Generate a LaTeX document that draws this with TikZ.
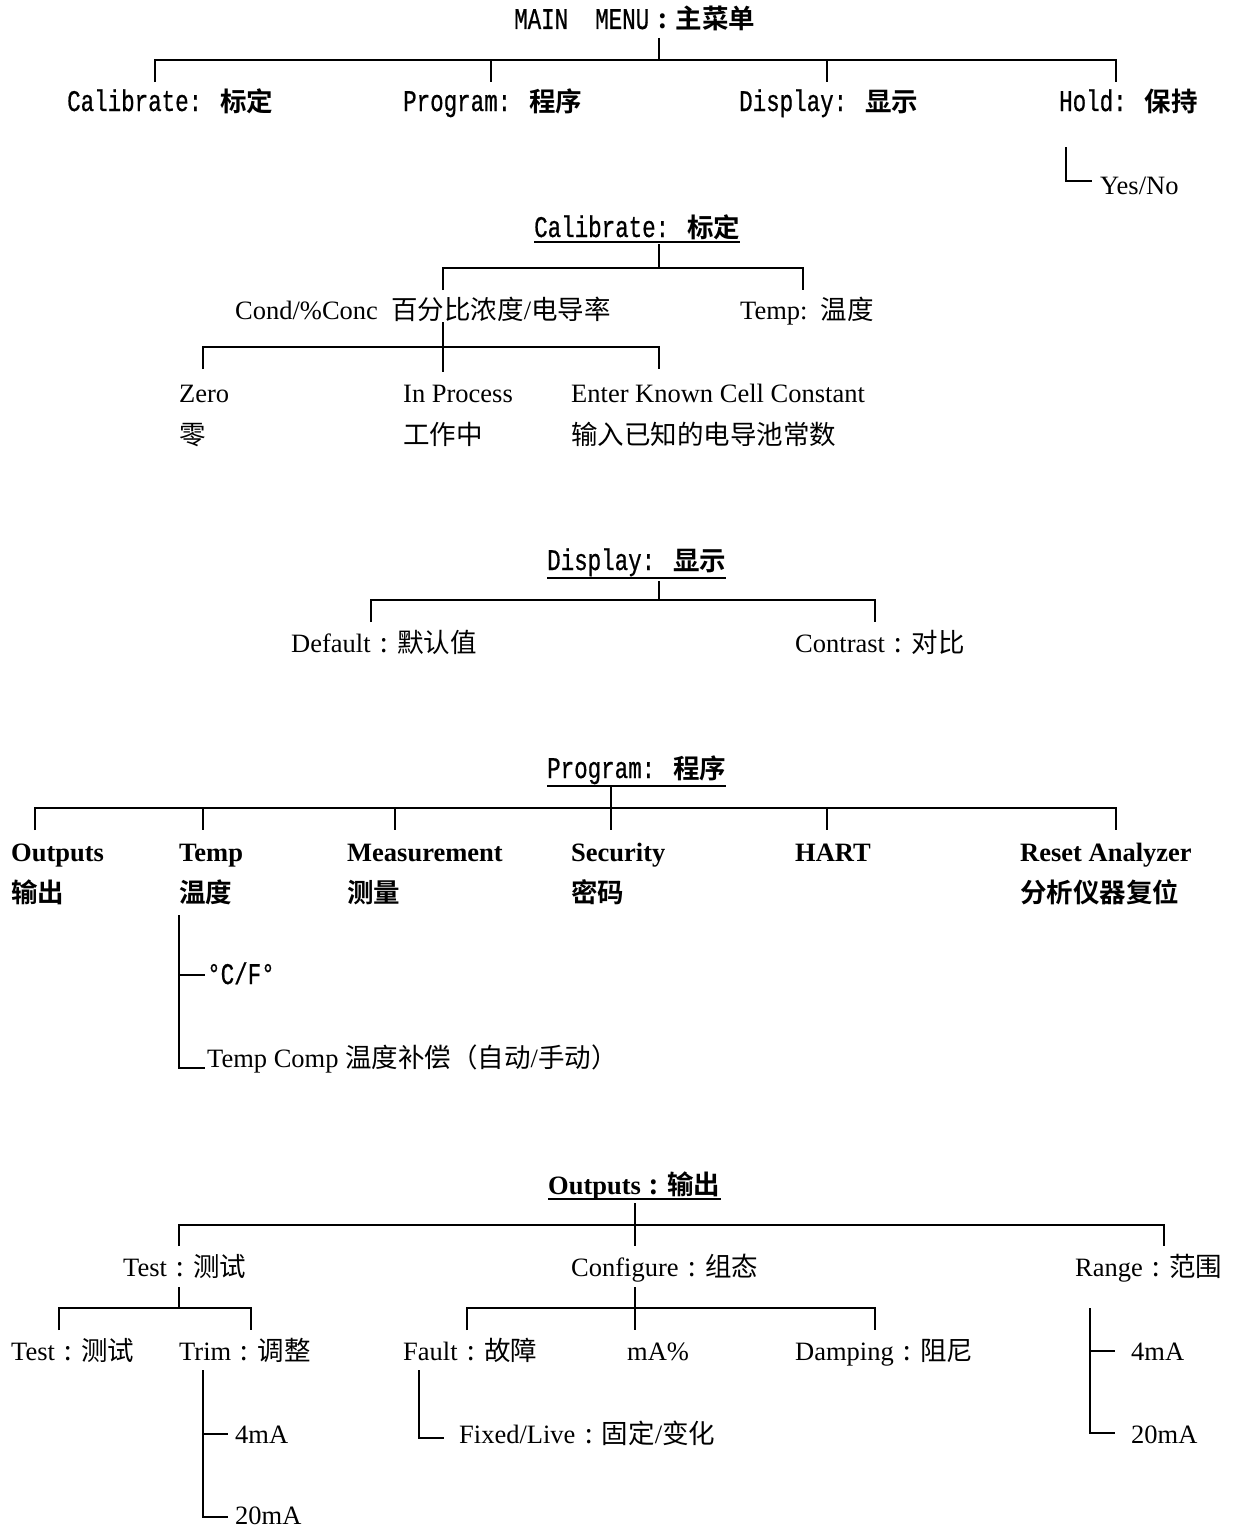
\documentclass[tikz,border=0pt]{standalone}
\usepackage{fontspec}
\setmainfont{Liberation Serif}
\newfontfamily\cjk[BoldFont={Noto Sans CJK SC Bold}]{Noto Sans CJK SC}
\newfontfamily\mono[FakeStretch=0.75,FakeBold=0.6]{Liberation Mono}
\newcommand{\zh}[1]{{\cjk #1}}
\newcommand{\zhb}[1]{{\cjk\bfseries #1}}
\newcommand{\fc}{\makebox[1em][c]{\cjk :}}
\newcommand{\fcb}{\makebox[1em][c]{\cjk\bfseries :}}
\newcommand{\mo}[1]{{\fontsize{30}{30}\selectfont\mono #1}}
\begin{document}
\begin{tikzpicture}[x=1pt,y=-1pt,
  lbl/.style={anchor=base west, inner sep=0pt, font=\fontsize{26.5}{30}\selectfont},
  blbl/.style={lbl, font=\fontsize{26.5}{30}\selectfont\bfseries},
  ln/.style={line width=1.8pt},
  ul/.style={line width=1.8pt}]
\useasboundingbox (0,0) rectangle (1234,1528);
\fill[white] (0,0) rectangle (1234,1528);

% ---------- Main menu ----------
\node[lbl] (main) at (514,29) {\mo{MAIN\ \ MENU}\zhb{\fcb 主菜单}};
\node[lbl] (cal1) at (67,111) {\mo{Calibrate: }\zhb{标定}};
\node[lbl] (prog1) at (403,111) {\mo{Program: }\zhb{程序}};
\node[lbl] (disp1) at (739,111) {\mo{Display: }\zhb{显示}};
\node[lbl] (hold1) at (1059,111) {\mo{Hold: }\zhb{保持}};
\node[lbl] (yesno) at (1100,194) {Yes/No};

\coordinate (mA) at (659,38);
\coordinate (mB) at (659,60);
\coordinate (m1) at (155,82);
\coordinate (m2) at (491,82);
\coordinate (m3) at (827,82);
\coordinate (m4) at (1116,82);
\draw[ln] (mA) -- (mB);
\draw[ln] (m1) -- (m1|-mB) -- (m4|-mB) -- (m4);
\draw[ln] (m2|-mB) -- (m2);
\draw[ln] (m3|-mB) -- (m3);
\coordinate (hA) at (1066,147);
\coordinate (hB) at (1092,181);
\draw[ln] (hA) |- (hB);

% ---------- Calibrate ----------
\node[lbl] (calH) at (534,237) {\mo{Calibrate: }\zhb{标定}};
\draw[ul] ([yshift=-5pt]calH.base west) -- ([yshift=-5pt]calH.base east);
\node[lbl] (cond) at (235,319) {Cond/\%Conc\ \ \zh{百分比浓度}/\zh{电导率}};
\node[lbl] (tempc) at (740,319) {Temp:\ \ \zh{温度}};
\node[lbl] (zero) at (179,402) {Zero};
\node[lbl] (ling) at (179,444) {\zh{零}};
\node[lbl] (inproc) at (403,402) {In Process};
\node[lbl] (gzz) at (403,444) {\zh{工作中}};
\node[lbl] (enter) at (571,402) {Enter Known Cell Constant};
\node[lbl] (shuru) at (571,444) {\zh{输入已知的电导池常数}};

\coordinate (cA) at (659,244);
\coordinate (cB) at (659,268);
\coordinate (c1) at (443,290);
\coordinate (c2) at (803,290);
\draw[ln] (cA) -- (cB);
\draw[ln] (c1) -- (c1|-cB) -- (c2|-cB) -- (c2);
\coordinate (kA) at (443,322);
\coordinate (kB) at (443,347);
\coordinate (kC) at (443,372);
\coordinate (k1) at (203,369);
\coordinate (k3) at (659,369);
\draw[ln] (kA) -- (kC);
\draw[ln] (k1) -- (k1|-kB) -- (k3|-kB) -- (k3);

% ---------- Display ----------
\node[lbl] (dispH) at (547,570) {\mo{Display: }\zhb{显示}};
\draw[ul] ([yshift=-8pt]dispH.base west) -- ([yshift=-8pt]dispH.base east);
\node[lbl] (default) at (291,652) {Default\zh{\fc 默认值}};
\node[lbl] (contrast) at (795,652) {Contrast\zh{\fc 对比}};
\coordinate (dA) at (659,581);
\coordinate (dB) at (659,600);
\coordinate (d1) at (371,622);
\coordinate (d2) at (875,622);
\draw[ln] (dA) -- (dB);
\draw[ln] (d1) -- (d1|-dB) -- (d2|-dB) -- (d2);

% ---------- Program ----------
\node[lbl] (progH) at (547,778) {\mo{Program: }\zhb{程序}};
\draw[ul] ([yshift=-8pt]progH.base west) -- ([yshift=-8pt]progH.base east);
\node[blbl] (outp) at (11,861) {Outputs};
\node[lbl] (outpz) at (11,902) {\zhb{输出}};
\node[blbl] (tempp) at (179,861) {Temp};
\node[lbl] (temppz) at (179,902) {\zhb{温度}};
\node[blbl] (meas) at (347,861) {Measurement};
\node[lbl] (measz) at (347,902) {\zhb{测量}};
\node[blbl] (sec) at (571,861) {Security};
\node[lbl] (secz) at (571,902) {\zhb{密码}};
\node[blbl] (hart) at (795,861) {HART};
\node[blbl] (reset) at (1020,861) {Reset Analyzer};
\node[lbl] (resetz) at (1020,902) {\zhb{分析仪器复位}};
\node[lbl] (cf) at (207,984) {\mo{°C/F°}};
\node[lbl] (tcomp) at (207,1067) {Temp Comp \zh{温度补偿（自动}/\zh{手动）}};

\coordinate (pA) at (611,787);
\coordinate (pB) at (611,808);
\coordinate (p1) at (35,830);
\coordinate (p2) at (203,830);
\coordinate (p3) at (395,830);
\coordinate (p4) at (611,830);
\coordinate (p5) at (827,830);
\coordinate (p6) at (1116,830);
\draw[ln] (pA) -- (p4);
\draw[ln] (p1) -- (p1|-pB) -- (p6|-pB) -- (p6);
\draw[ln] (p2|-pB) -- (p2);
\draw[ln] (p3|-pB) -- (p3);
\draw[ln] (p5|-pB) -- (p5);
\coordinate (tA) at (179,915);
\coordinate (tB) at (205,975);
\coordinate (tC) at (205,1068);
\draw[ln] (tA) |- (tC);
\draw[ln] (tA|-tB) -- (tB);

% ---------- Outputs ----------
\node[blbl] (outH) at (548,1194) {Outputs\zhb{\fcb 输出}};
\draw[ul] ([yshift=-5pt]outH.base west) -- ([yshift=-5pt]outH.base east);
\node[lbl] (test) at (123,1276) {Test\zh{\fc 测试}};
\node[lbl] (conf) at (571,1276) {Configure\zh{\fc 组态}};
\node[lbl] (range) at (1075,1276) {Range\zh{\fc 范围}};
\node[lbl] (test2) at (11,1360) {Test\zh{\fc 测试}};
\node[lbl] (trim) at (179,1360) {Trim\zh{\fc 调整}};
\node[lbl] (fault) at (403,1360) {Fault\zh{\fc 故障}};
\node[lbl] (mapct) at (627,1360) {mA\%};
\node[lbl] (damp) at (795,1360) {Damping\zh{\fc 阻尼}};
\node[lbl] (t4) at (235,1443) {4mA};
\node[lbl] (t20) at (235,1524) {20mA};
\node[lbl] (fixed) at (459,1443) {Fixed/Live\zh{\fc 固定}/\zh{变化}};
\node[lbl] (r4) at (1131,1360) {4mA};
\node[lbl] (r20) at (1131,1443) {20mA};

\coordinate (oA) at (635,1203);
\coordinate (oB) at (635,1225);
\coordinate (o1) at (179,1246);
\coordinate (o2) at (635,1246);
\coordinate (o3) at (1164,1246);
\draw[ln] (oA) -- (o2);
\draw[ln] (o1) -- (o1|-oB) -- (o3|-oB) -- (o3);

\coordinate (sA) at (179,1287);
\coordinate (sB) at (179,1308);
\coordinate (s1) at (59,1330);
\coordinate (s2) at (251,1330);
\draw[ln] (sA) -- (sB);
\draw[ln] (s1) -- (s1|-sB) -- (s2|-sB) -- (s2);

\coordinate (gA) at (635,1287);
\coordinate (gB) at (635,1308);
\coordinate (g1) at (467,1330);
\coordinate (g2) at (635,1330);
\coordinate (g3) at (875,1330);
\draw[ln] (gA) -- (g2);
\draw[ln] (g1) -- (g1|-gB) -- (g3|-gB) -- (g3);

\coordinate (rA) at (203,1370);
\coordinate (rB) at (228,1434);
\coordinate (rC) at (228,1517);
\draw[ln] (rA) |- (rC);
\draw[ln] (rA|-rB) -- (rB);

\coordinate (fA) at (419,1370);
\coordinate (fB) at (444,1438);
\draw[ln] (fA) |- (fB);

\coordinate (nA) at (1090,1308);
\coordinate (nB) at (1115,1351);
\coordinate (nC) at (1115,1433);
\draw[ln] (nA) |- (nC);
\draw[ln] (nA|-nB) -- (nB);
\end{tikzpicture}
\end{document}
